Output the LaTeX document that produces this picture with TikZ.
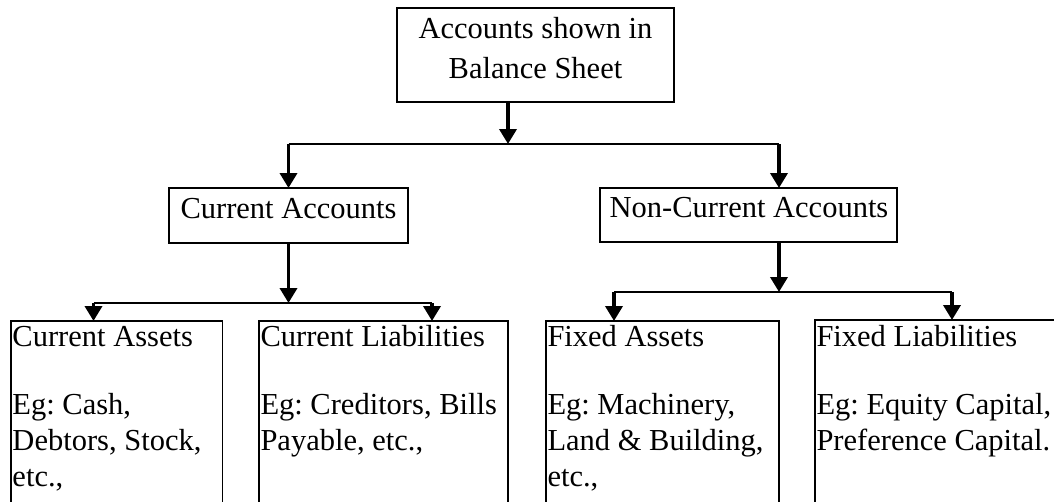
\documentclass[tikz,border=0pt]{standalone}
\usepackage{fontspec}
\setmainfont{Liberation Serif}
\usetikzlibrary{arrows.meta}
\frenchspacing
\begin{document}
\begin{tikzpicture}[x=1pt,y=-1pt,
  txt/.style={font=\fontsize{30.5}{36}\selectfont, inner sep=0pt, outer sep=0pt},
  box/.style={draw, line width=1.5pt, inner sep=0pt, outer sep=0pt},
  hline/.style={line width=1.8pt},
  stem/.style={line width=3.6pt, -{Triangle[length=15pt,width=17pt]}},
]
\useasboundingbox (0,0) rectangle (1054,501);
\clip (0,0) rectangle (1054,501);

% root
\node[box, minimum width=277pt, minimum height=94pt] (root) at (535.5,55) {};
\node[txt, font=\fontsize{30.5}{40}\selectfont, align=center] (roottxt) at (535.5,47.6) {Accounts shown in\\Balance Sheet};

% second level
\node[box, minimum width=239pt, minimum height=55pt] (cur) at (288.5,215.5) {};
\node[txt, anchor=base] (curtxt) at (288.5,218) {Current Accounts};
\node[box, minimum width=297pt, minimum height=54pt] (ncur) at (748.5,215) {};
\node[txt, anchor=base] (ncurtxt) at (749,217) {Non-Current Accounts};

% leaves (boxes run on past the lower edge)
\node[box, anchor=north west, minimum width=211.5pt, minimum height=220pt] (cass) at (11,321) {};
\node[box, anchor=north west, minimum width=249pt, minimum height=220pt] (cliab) at (259,321) {};
\node[box, anchor=north west, minimum width=233pt, minimum height=220pt] (fass) at (546,321) {};
\node[box, anchor=north west, minimum width=260pt, minimum height=220pt] (fliab) at (815,320) {};

% multi-line texts: base anchor sits on the last line
\node[txt, align=left, anchor=base west] (casstxt) at (12.5,486) {Current Assets\\[32pt]Eg: Cash,\\Debtors, Stock,\\etc.,};
\node[txt, align=left, anchor=base west] (cliabtxt) at (260.5,450) {Current Liabilities\\[32pt]Eg: Creditors, Bills\\Payable, etc.,};
\node[txt, align=left, anchor=base west] (fasstxt) at (547.5,486) {Fixed Assets\\[32pt]Eg: Machinery,\\Land \& Building,\\etc.,};
\node[txt, align=left, anchor=base west] (fliabtxt) at (816.5,450) {Fixed Liabilities\\[32pt]Eg: Equity Capital,\\Preference Capital.};

% connectors
\coordinate (j0) at (508,144);
\coordinate (jl) at (288.5,144);
\coordinate (jr) at (779,144);
\draw[hline] (jl) -- (jr);
\draw[stem] (root.south -| j0) -- (j0);
\draw[stem] (jl) -- (jl |- cur.north);
\draw[stem] (jr) -- (jr |- ncur.north);

\coordinate (kl) at (93.5,303);
\coordinate (kr) at (432,303);
\coordinate (km) at (288.5,303);
\draw[hline] (kl) -- (kr);
\draw[stem] (cur.south -| km) -- (km);
\draw[stem] (kl) -- (kl |- cass.north);
\draw[stem] (kr) -- (kr |- cliab.north);

\coordinate (ml) at (614,292);
\coordinate (mr) at (952,292);
\coordinate (mm) at (779,292);
\draw[hline] (ml) -- (mr);
\draw[stem] (ncur.south -| mm) -- (mm);
\draw[stem] (ml) -- (ml |- fass.north);
\draw[stem] (mr) -- (mr |- fliab.north);
\end{tikzpicture}
\end{document}
